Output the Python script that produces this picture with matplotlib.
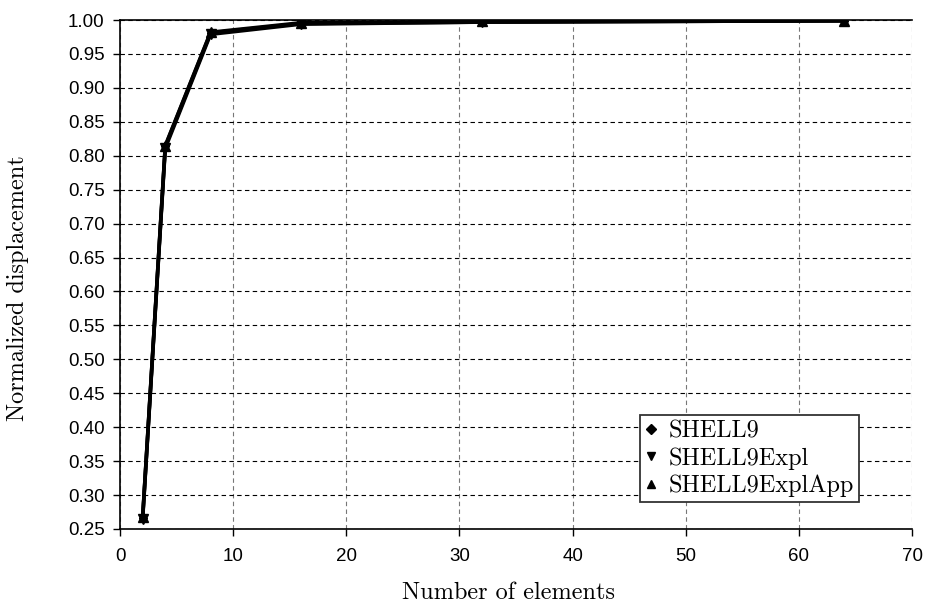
import matplotlib
matplotlib.use("Agg")
import matplotlib.pyplot as plt
import numpy as np

# Data
n_elements = [2, 4, 8, 16, 32, 64]
shell9 = [0.266, 0.814, 0.981, 0.995, 0.997, 0.999]
shell9_expl = [0.264, 0.811, 0.979, 0.994, 0.997, 0.999]
shell9_expl_app = [0.267, 0.815, 0.982, 0.996, 0.998, 0.999]

series_labels = ["SHELL9", "SHELL9Expl", "SHELL9ExplApp"]
series_markers = ["D", "v", "^"]

xticks = np.arange(0, 71, 10)
yticks = np.arange(0.25, 1.001, 0.05)

serif = "cmr10"
sans = "Liberation Sans"

fig = plt.figure(figsize=(9.26, 6.08), dpi=100)
ax = fig.add_axes([0.1296, 0.130, 0.8553, 0.837])

for ys, lab, mk in zip([shell9, shell9_expl, shell9_expl_app], series_labels, series_markers):
    ax.plot(n_elements, ys, color="black", lw=2.6, marker=mk,
            ms=6.5 if mk != "D" else 4, label=lab)

ax.set_xlim(0, 70)
ax.set_ylim(0.25, 1.0)
ax.set_xticks(xticks)
ax.set_yticks(yticks)
ax.set_xticklabels([str(v) for v in xticks], fontfamily=sans, fontsize=13.5)
ax.set_yticklabels([f"{v:.2f}" for v in yticks], fontfamily=sans, fontsize=13.5)

# grid: horizontal black dashed, vertical gray dashed
ax.yaxis.grid(True, color="black", linestyle=(0, (4, 3)), lw=0.8)
ax.xaxis.grid(True, color="#777777", linestyle=(0, (4, 3)), lw=0.8)
ax.set_axisbelow(True)

ax.spines["right"].set_visible(False)
ax.spines["left"].set_linewidth(1.2)
ax.spines["bottom"].set_linewidth(1.2)
ax.spines["top"].set_linewidth(1.2)
ax.tick_params(direction="out", length=5, width=1, colors="black")
ax.tick_params(axis="x", pad=9)
ax.tick_params(axis="y", pad=6)

ax.set_xlabel("Number of elements", fontfamily=serif, fontsize=17.5)
ax.set_ylabel("Normalized displacement", fontfamily=serif, fontsize=17.5)
ax.xaxis.set_label_coords(0.49, -0.104)
ax.yaxis.set_label_coords(-0.115, 0.474)

handles = [plt.Line2D([], [], color="black", ls="none", marker=mk, ms=6 if mk != "D" else 5)
           for mk in series_markers]
leg = ax.legend(handles, series_labels, loc="lower right",
                bbox_to_anchor=(0.933, 0.053), prop={"family": serif, "size": 17.5},
                frameon=True, fancybox=False, handlelength=0.5, handletextpad=0.5,
                labelspacing=0.2, borderpad=0.2, borderaxespad=0)
leg.get_frame().set_edgecolor("#333333")
leg.get_frame().set_linewidth(1.3)
leg.get_frame().set_alpha(1)

fig.savefig("out.png", dpi=100)
